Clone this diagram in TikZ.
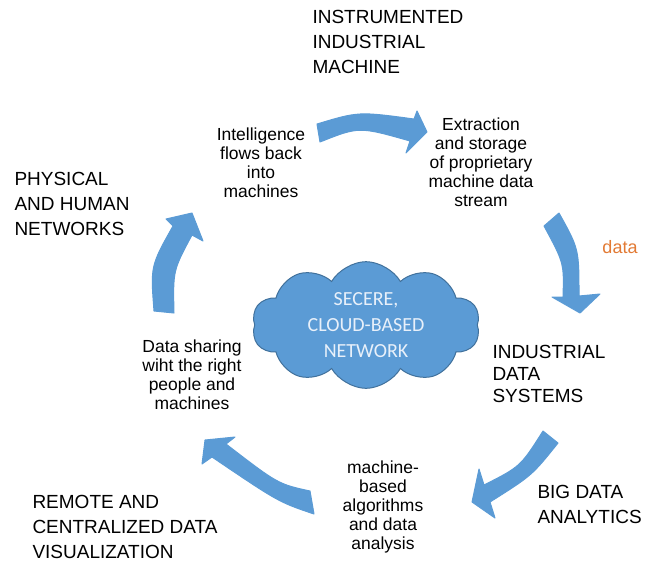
\documentclass[tikz,border=0pt]{standalone}
\usepackage{fontspec}
\setmainfont{Liberation Sans}
\newfontfamily\cloudfont{Carlito}
\usetikzlibrary{shapes.symbols}

\definecolor{arrowblue}{RGB}{91,155,213}
\definecolor{cloudblue}{RGB}{91,155,213}
\definecolor{cloudedge}{RGB}{65,113,156}
\definecolor{cloudtext}{RGB}{232,240,250}
\definecolor{dataorange}{RGB}{226,122,52}

\tikzset{every picture/.style={line width=0.75pt}}
\tikzset{
  caplabel/.style={font=\fontsize{14.25}{18.75}\selectfont, align=left, inner sep=0pt},
  steptext/.style={font=\fontsize{13.1}{14.25}\selectfont, align=center, inner sep=0pt},
  datalabel/.style={font=\fontsize{13.5}{14.25}\selectfont, text=dataorange, inner sep=0pt},
  cloudnode/.style={cloud, cloud puffs=10, cloud puff arc=120, aspect=1.8,
    draw=cloudedge, fill=cloudblue, text=cloudtext, align=center, inner sep=0pt,
    font=\cloudfont\fontsize{15}{19.5}\selectfont,
    minimum width=171pt, minimum height=95pt},
  arrowfill/.style={draw=arrowblue, fill=arrowblue, line join=round}
}

\begin{document}
\begin{tikzpicture}[x=0.75pt,y=0.75pt,yscale=-1,xscale=1]
\useasboundingbox (0,0) rectangle (648,563);

% Cloud
\node [cloudnode] (cloud) at (366,325) {SECERE,\\CLOUD-BASED\\NETWORK};

% Curved Arrow
\draw [arrowfill] (317,124) .. controls (358.5,111.5) .. (414,119) -- (417,111) -- (427,132) -- (406,153) -- (410,141) .. controls (359,126.5) .. (320,142) -- cycle;
% Curved Arrow
\draw [arrowfill] (559,213) .. controls (579,249) .. (579,296) -- (600,294) -- (580,313) -- (552,297) -- (563,297) .. controls (564,263) .. (544,226) -- cycle;
% Curved Arrow
\draw [arrowfill] (543,431) .. controls (520.5,466.5) .. (484,485) -- (479,469) -- (472,502) -- (495,518) -- (490,502) .. controls (532,475.5) .. (558,443) -- cycle;
% Curved Arrow
\draw [arrowfill] (310,491) .. controls (278,484) .. (226,444) -- (235,437) -- (205,440) -- (202,464) -- (212,457) .. controls (278.5,502) .. (314,514) -- cycle;
% Curved Arrow
\draw [arrowfill] (154,311) .. controls (150.5,266) .. (173,226) -- (166,219) -- (192,213) -- (203,241) -- (192,235) .. controls (173,270.5) .. (174,313) -- cycle;

% Text Node
\node [caplabel, anchor=north west] (instr) at (312,10) {INSTRUMENTED\\INDUSTRIAL\\MACHINE};
% Text Node
\node [caplabel, anchor=north west] (phys) at (14,172) {PHYSICAL\\AND HUMAN\\NETWORKS};
% Text Node
\node [caplabel, anchor=north west, font=\fontsize{14.25}{16.5}\selectfont] (indsys) at (492,345) {INDUSTRIAL\\DATA\\SYSTEMS};
% Text Node
\node [caplabel, anchor=north west] (bigdata) at (537,485) {BIG DATA\\ANALYTICS};
% Text Node
\node [caplabel, anchor=north west] (remote) at (32,495) {REMOTE AND\\CENTRALIZED DATA\\VISUALIZATION};

% Text Node
\node [steptext, anchor=north] (flows) at (261,127) {Intelligence\\flows back\\into\\machines};
% Text Node
\node [steptext, anchor=north] (extract) at (481,117) {Extraction\\and storage\\of proprietary\\machine data\\stream};
% Text Node
\node [steptext, anchor=north] (sharing) at (192,339) {Data sharing\\wiht the right\\people and\\machines};
% Text Node
\node [steptext, anchor=north] (algo) at (383,460) {machine-\\based\\algorithms\\and data\\analysis};
% Text Node
\node [datalabel] (data) at (620,247) {data};

\end{tikzpicture}
\end{document}
